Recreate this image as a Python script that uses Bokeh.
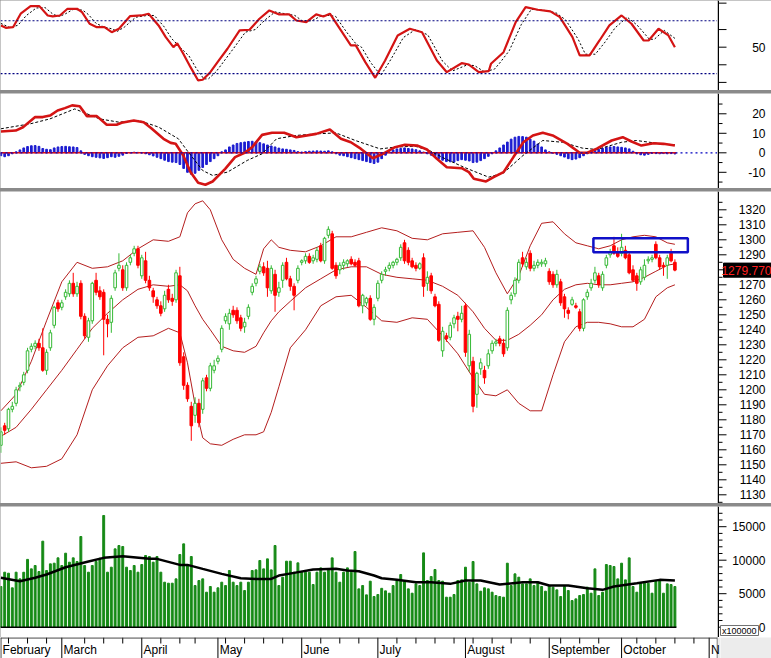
from bokeh.plotting import figure
from bokeh.layouts import column, row
from bokeh.models import Range1d, Span
from bokeh.embed import file_html
from bokeh.resources import INLINE
from bokeh.core.properties import value

# ---------------- data ----------------
opens = [1163,1176,1174,1187,1191,1202,1205,1213,1227,1229,
         1231,1228,1213,1228,1243,1258,1255,1262,1264,1271,
         1264,1271,1249,1235,1246,1273,1266,1265,1247,1245,
         1268,1281,1280,1268,1285,1291,1294,1276,1286,1273,
         1266,1260,1256,1254,1267,1261,1260,1276,1222,1203,
         1189,1183,1191,1187,1208,1201,1213,1219,1227,1246,
         1244,1253,1253,1248,1242,1249,1265,1271,1279,1282,
         1281,1266,1277,1265,1273,1285,1274,1269,1273,1285,
         1286,1289,1286,1287,1296,1286,1303,1304,1283,1280,
         1283,1284,1287,1285,1286,1256,1258,1261,1247,1261,
         1273,1279,1281,1283,1285,1288,1298,1293,1286,1283,
         1281,1288,1271,1276,1262,1257,1226,1236,1235,1244,
         1249,1247,1256,1216,1219,1197,1214,1213,1216,1226,
         1231,1234,1231,1228,1260,1264,1273,1288,1282,1291,
         1281,1283,1284,1284,1279,1277,1270,1272,1262,1253,
         1257,1256,1252,1241,1262,1268,1273,1276,1268,1283,
         1290,1296,1292,1291,1293,1290,1280,1276,1272,1275,
         1286,1287,1297,1288,1283,1283,1291,1285]
highs = [1175,1178,1188,1192,1202,1205,1212,1228,1231,1233,
         1234,1241,1227,1240,1256,1260,1260,1267,1273,1278,
         1272,1273,1251,1248,1272,1278,1269,1267,1250,1263,
         1280,1291,1283,1285,1290,1296,1296,1290,1292,1276,
         1268,1262,1259,1266,1270,1264,1280,1282,1225,1205,
         1192,1195,1194,1208,1210,1218,1220,1223,1243,1251,
         1254,1256,1255,1250,1248,1257,1271,1276,1284,1285,
         1286,1283,1280,1272,1285,1288,1276,1271,1283,1287,
         1291,1291,1290,1295,1298,1302,1309,1306,1285,1285,
         1287,1287,1289,1287,1288,1264,1262,1263,1257,1273,
         1279,1282,1285,1286,1288,1297,1300,1295,1288,1285,
         1285,1291,1279,1278,1264,1259,1242,1238,1245,1250,
         1252,1256,1258,1240,1222,1212,1221,1216,1227,1233,
         1234,1236,1234,1255,1265,1275,1287,1292,1288,1293,
         1286,1287,1287,1288,1281,1279,1280,1274,1264,1255,
         1262,1258,1254,1261,1267,1274,1282,1278,1279,1290,
         1294,1302,1295,1304,1296,1292,1283,1278,1282,1287,
         1289,1290,1299,1290,1285,1290,1294,1287]
lows = [1158,1170,1172,1185,1189,1199,1203,1211,1225,1227,
        1226,1212,1210,1226,1241,1252,1253,1260,1262,1262,
        1262,1247,1234,1232,1244,1263,1260,1223,1235,1238,
        1266,1279,1266,1266,1283,1289,1281,1274,1271,1266,
        1258,1254,1249,1252,1258,1256,1258,1216,1200,1192,
        1166,1178,1175,1184,1199,1199,1211,1217,1225,1244,
        1240,1248,1244,1239,1238,1247,1263,1269,1277,1276,
        1262,1264,1252,1262,1268,1273,1266,1253,1271,1283,
        1284,1284,1284,1285,1285,1284,1301,1280,1274,1277,
        1280,1282,1283,1282,1255,1251,1256,1246,1243,1259,
        1271,1276,1279,1281,1283,1286,1284,1283,1281,1279,
        1280,1262,1266,1264,1255,1232,1222,1232,1233,1241,
        1239,1245,1222,1212,1185,1188,1210,1204,1214,1224,
        1229,1229,1222,1226,1257,1262,1271,1282,1280,1279,
        1279,1281,1282,1282,1270,1268,1268,1256,1248,1247,
        1256,1254,1239,1239,1260,1266,1271,1268,1266,1281,
        1288,1290,1288,1289,1287,1277,1272,1266,1270,1273,
        1284,1285,1287,1280,1276,1274,1285,1279]
closes = [1172,1173,1187,1189,1200,1203,1210,1226,1229,1231,
          1228,1213,1225,1238,1255,1254,1258,1265,1271,1264,
          1269,1249,1236,1246,1271,1265,1262,1247,1244,1261,
          1278,1283,1268,1283,1288,1294,1283,1288,1273,1268,
          1262,1256,1251,1263,1260,1259,1278,1218,1203,1194,
          1176,1191,1178,1206,1201,1216,1216,1221,1241,1249,
          1251,1250,1246,1241,1245,1255,1269,1274,1282,1278,
          1268,1281,1263,1268,1283,1274,1269,1263,1281,1286,
          1289,1285,1288,1293,1286,1301,1307,1281,1276,1283,
          1285,1286,1284,1283,1256,1263,1261,1247,1255,1271,
          1277,1280,1283,1285,1287,1295,1286,1285,1282,1281,
          1284,1269,1275,1266,1256,1233,1239,1234,1243,1248,
          1247,1251,1225,1237,1189,1211,1218,1208,1224,1231,
          1232,1231,1224,1253,1263,1273,1285,1284,1285,1281,
          1283,1285,1285,1286,1272,1270,1277,1258,1254,1251,
          1260,1255,1241,1260,1265,1271,1278,1270,1277,1288,
          1292,1291,1289,1295,1288,1278,1273,1271,1280,1283,
          1287,1288,1288,1282,1282,1288,1286,1279.77]
volume = [6074,8209,8060,5876,8209,7214,8200,10122,8707,9204,
          8309,12838,8458,9453,9553,10349,9204,11045,9702,10349,
          9802,13534,9204,8209,9204,9802,10300,16672,8209,8955,
          11691,12189,12040,8955,8458,9204,8209,9354,10697,10548,
          9702,10548,8209,6717,6568,6568,7214,10846,12438,9204,
          10548,6220,6966,7214,5225,6074,5225,5876,6717,6220,
          8458,6717,6220,6717,5474,6717,8458,8557,9951,8707,
          10200,8557,12189,6220,7463,9851,9851,8209,9603,8209,
          8209,8209,6369,8209,8856,8209,8707,10349,8209,6717,
          8209,8856,8209,11293,5724,6220,4827,6866,4578,4877,
          5800,5424,5076,6220,6966,7861,6817,5724,5076,6469,
          6220,11094,6966,7562,8607,6966,6866,4479,4479,4877,
          6966,7065,8955,6717,9802,6469,5375,5876,5724,5225,
          4728,4578,4479,9553,6220,7960,7463,6469,6469,7214,
          6220,6717,6074,5375,6220,5975,5574,4578,6074,5474,
          3980,4229,4728,4877,5975,5076,8707,4728,5225,9354,
          9204,9055,7214,9553,7065,10349,6074,5225,6568,6568,
          6568,5076,6966,6966,5076,6469,6369,6074]
macd_hist = [-1.5,-2,-1.5,-0.5,0.5,1.5,2.5,3.2,3.6,3.7,
             3.3,2.2,1.8,1.6,2.5,3,3.2,3.3,3.1,3,
             2.7,1.0,-0.8,-1.5,-2,-2.3,-2.6,-2.9,-2.5,-2.0,
             -2.3,-1.8,-1.2,-0.3,0,0.3,0.2,0,-0.5,-1,
             -1.6,-2.3,-3,-3.8,-4.5,-4.8,-5,-6,-8,-10,
             -11,-10.5,-9,-7.5,-6,-4.5,-3,-1.5,0.5,1.5,
             3,4,4.8,5.2,5.5,5.8,5.9,5.6,5.2,4.6,
             4,3.5,3,2.4,2,1.8,1.5,1.2,0.6,0.4,
             0.6,0.8,0.9,1.0,0.9,0.8,1,0.5,-0.5,-1.2,
             -1.5,-2,-2.5,-3,-3.5,-4,-4.5,-5,-5.5,-4.8,
             -3,-1.2,0.5,1.5,2,2.2,2.5,2.2,2,1.6,
             1,0.4,-0.5,-1.2,-2,-3,-3.8,-4.5,-4.6,-4.8,
             -4,-3.5,-3.8,-4.2,-5,-4.8,-4,-3,-1.8,-0.5,
             1,2.5,4,5.5,7,8,8.4,8.3,8,7,
             6,4.5,3,1.5,0.5,-0.2,-0.8,-1.5,-2.2,-3,
             -3.5,-3.2,-2.5,-1.5,-0.5,0.5,1.2,1.8,2.3,2.8,
             3,3.2,3,2.8,2.5,2,0.8,-0.5,-1,-1.2,
             -0.8,-0.3,-0.4,-0.5,-0.4,-0.5,-0.4,-0.6]

# Bollinger bands (read at selected bars)
bb_x = [0,4,8,12,16,20,24,28,32,36,40,44,47,49,51,53,55,58,61,64,67,69,71,73,76,
        80,84,88,92,96,100,104,108,112,116,120,124,127,130,133,136,139,142,145,148,
        151,154,157,160,163,166,169,172,175,177]
bb_upper = [1186,1197,1219,1246,1272,1285,1281,1282,1286,1294,1300,1299,1302,1318,1324,
            1326,1320,1300,1287,1281,1277,1294,1300,1295,1293,1292,1296,1302,1302,1305,
            1308,1306,1301,1300,1304,1305,1306,1295,1278,1264,1276,1296,1311,1312,1304,
            1298,1296,1294,1296,1300,1302,1303,1302,1298,1297]
bb_middle = [1169,1175,1187,1200,1213,1227,1241,1251,1260,1267,1270,1269,1270,1266,1256,
             1247,1240,1229,1226,1225,1229,1238,1246,1252,1259,1268,1274,1280,1282,1282,
             1277,1275,1274,1273,1269,1263,1252,1241,1233,1233,1237,1243,1250,1260,1267,
             1270,1271,1270,1270,1271,1272,1275,1279,1283,1284]
bb_lower = [1151,1152,1148,1149,1154,1170,1200,1216,1228,1235,1236,1241,1238,1218,1190,
            1168,1164,1163,1167,1170,1170,1172,1185,1202,1228,1240,1256,1262,1263,1255,
            1246,1245,1248,1247,1236,1224,1208,1197,1196,1200,1191,1186,1186,1210,1232,
            1242,1245,1245,1244,1242,1242,1247,1262,1268,1270]

# Stochastic %K and %D
stk_x = [0,1.3,3.2,5.2,7.8,10.1,12.3,13.6,15.5,17.5,20,21.3,23.3,25.2,27.2,29.1,31,33.9,
         36.9,38.8,41.4,43.3,45.3,46.3,47.9,49.8,51.8,53,55,56.9,59.5,62.7,65.3,67.9,70.5,
         73.1,75.7,77.6,80.2,82.8,84.7,86.4,89.3,91.9,93.2,95.7,98.3,100.9,104.2,107.4,
         110.6,114.5,117.1,121,122.9,125.5,128.1,128.7,132,135.2,137.8,141,144.3,146.8,
         150.1,152,154.6,157.2,159.8,163,165.6,168.8,170.1,172.7,175.3,177]
stk_k = [74.7,72,72.7,88,96.6,96.6,86,84.9,86,93.6,93.6,89.8,76.6,72.7,72.7,67,70.9,85.2,
         86,88,74.7,61.4,50,54.5,42.5,27.3,12.2,13,21.6,33,48.2,69,69.8,82.3,91.7,87.2,
         87.2,80.3,78.4,87.2,84.9,88,69,52,52,33,15.2,34.9,63.3,70.9,67,34.9,21.6,31.8,
         30.3,21.6,22.7,31.1,44.3,78.4,95.5,92.5,90.6,84.1,61.4,40.6,40.6,57.6,74.7,86,
         76.6,57.6,57.6,70.9,63.3,50]
std_x = [0,2.5,4.5,6.7,9.3,11.6,13.8,15.5,17,19,21.5,23,25,27,29,30.6,32.5,35.4,38.4,40.3,
         42.9,44.8,46.8,49.4,51.3,53.3,54.5,56.5,58.4,61,64.2,66.8,69.4,72,74.6,77.2,79.1,
         81.7,84.3,86.2,87.9,90.8,93.4,94.7,97.2,99.8,102.4,105.7,108.9,112.1,116,118.6,
         122.5,124.4,127,129.6,131,133.5,136.7,139.3,142.5,145.8,148.3,151.6,153.5,156.1,
         158.7,161.3,164.5,167.1,170.3,171.6,174.2,177]
std_d = [77,72,75,86,94.5,95,87,85,88,93,92,87,77,73,71,68,73,84,86,86,73,60,51,40,26,14,
         14,22,33,48,67,70,81,90,88,86,80,80,86,86,85,67,53,50,32,18,36,61,70,64,34,23,30,
         29,22,25,32,46,76,93,92,89,81,59,42,42,56,72,84,75,59,59,69,60]

# MACD line and signal
macd_x = [0,3.9,5.8,9,11,12.9,14.9,16.8,18.7,20.7,22.6,25.2,27.8,30.4,31.7,34.9,37.5,39.5,
          42.7,44.6,45.9,47.9,49.8,51.8,53.7,55.6,58.9,61.5,64,66,68.6,71.2,74.4,77.6,82.8,
          86.4,89.3,91.9,94.5,97.7,100.3,103.5,106.1,109.3,111.9,114.5,117.1,121,122.9,
          124.2,127.4,129.4,132,134.6,137.2,139.7,142.3,144.9,148.8,152,154,156.5,160.4,
          163.3,165.6,168.2,171.4,174,177]
macd_line = [10.9,11.4,13.1,18.3,18.3,19.1,21.7,22.9,24.3,23.9,18.8,18.8,14.4,14.4,15.4,
             16.6,15.7,12.6,7.2,5.1,4.6,-1.4,-9.9,-15.4,-16.4,-14.7,-8.2,-2.2,0,2.9,9.2,
             10.3,10.3,8,9.7,11.9,7.2,5.4,2.1,-2.8,-0.5,2.9,4.1,3.7,1.7,-3.1,-7.4,-7.9,
             -9.9,-13.3,-14.7,-12.5,-9.9,-2.2,5.4,8.9,10.3,8.9,4.6,0,0,2.1,6.3,8,5.8,3.7,
             4.9,4.6,3.7]
sig_x = [0,7.8,12.9,19.4,25.9,31,36.2,41.4,46.6,49.2,53,55.6,59.5,64.7,68.6,72.4,77.6,
         82.8,88,93.1,99.6,103.5,108.7,112.5,116.4,121.6,128.1,132,137.1,142.3,147.5,
         152.7,156.5,163,166.9,173.4,177]
sig_line = [12.3,14.9,17.4,22.5,17.4,15.7,16.6,13.2,7.2,0.4,-9.1,-11.6,-9.9,-3.9,-0.5,
            7.2,8.9,9.7,10.2,6.3,2,2.9,3.4,1.2,-2.8,-7.4,-12.5,-10.3,-1.4,6.3,5.4,2.4,
            1.7,5.4,6.3,4.6,4.1]

# Volume moving average
vma_x = [0,5,9,12,17,23,27,32,39,41,47,49,53,58,63,67,71,73,77,82,88,91,94,98,100,104,
         109,113,118,122,126,131,137,141,144,149,154,158,161,167,173,177]
vma = [7370,6870,7370,7860,8950,9800,10350,10600,10200,10200,9300,9300,8700,7960,7310,
       7210,7210,7710,8110,8610,8710,8460,8360,7710,7300,7065,6717,6717,6469,6966,6966,
       6369,6717,6717,6220,6220,5822,5574,6074,6568,7065,6966]

# annotation box on the price panel
box_left = [155.6]
box_right = [180.4]
box_top = [1301.1]
box_bottom = [1291.7]

# axis labels
month_labels = ["February", "March", "April", "May", "June", "July",
                "August", "September", "October", "N"]
month_start = [0, 16, 37, 57, 79, 99, 122, 144, 163, 186]
week_start = [2, 7, 12, 22, 27, 32, 42, 47, 51, 59, 64, 69, 74, 84, 89, 94, 104, 109,
              114, 119, 124, 129, 134, 139, 147, 152, 157, 167, 172, 177, 182]
stoch_ticks = [10, 30, 50, 70, 100]
stoch_label_ticks = [50]
macd_ticks = [-10, 0, 10, 20]
macd_minor = [-15, -5, 5, 15, 25]
price_ticks = [1130, 1140, 1150, 1160, 1170, 1180, 1190, 1200, 1210, 1220,
               1230, 1240, 1250, 1260, 1270, 1280, 1290, 1300, 1310, 1320]
price_minor = [1125, 1135, 1145, 1155, 1165, 1175, 1185, 1195, 1205, 1215, 1225,
               1235, 1245, 1255, 1265, 1275, 1285, 1295, 1305, 1315, 1325]
vol_ticks = [0, 5000, 10000, 15000]
vol_minor = [1000, 2000, 3000, 4000, 6000, 7000, 8000, 9000, 11000, 12000, 13000,
             14000, 16000, 17000]
vol_unit = "x100000"

# ---------------- layout constants ----------------
PX = 3.808            # pixels per bar
X0 = -0.1
FRAME_W = 717
AX_W = 54
X1 = X0 + FRAME_W / PX
XR = Range1d(X0, X1)
DS_W = 720            # date strip is a little wider so the clipped "N" stays whole
XR_DS = Range1d(X0, X0 + DS_W / PX)
FONT = "Liberation Sans"
n = len(closes)
xs = list(range(n))


def base_fig(w, h, xr, yr, bg="white"):
    p = figure(width=w, height=h, x_range=xr, y_range=yr,
               output_backend="svg", toolbar_location=None,
               x_axis_location=None, y_axis_location=None,
               min_border_left=0, min_border_right=0, min_border_top=0,
               min_border_bottom=0)
    p.outline_line_color = None
    p.grid.visible = False
    p.background_fill_color = bg
    p.border_fill_color = bg
    return p


def axis_panel(h, yr, major, minor, labelled, minor_len=4):
    a = base_fig(AX_W, h, Range1d(0, AX_W), yr)
    a.add_layout(Span(location=1, dimension="height", line_color="black", line_width=1))
    a.segment(x0=[1] * len(major), y0=major, x1=[9] * len(major), y1=major,
              line_color="black", line_width=1)
    if minor:
        a.segment(x0=[1] * len(minor), y0=minor, x1=[1 + minor_len] * len(minor),
                  y1=minor, line_color="black", line_width=1)
    a.text(x=[48] * len(labelled), y=labelled, text=[str(t) for t in labelled],
           text_align="right", text_baseline="middle", text_font=value(FONT),
           text_font_size=value("12px"), text_color="black")
    return a


# ---------------- stochastic ----------------
yr_st = Range1d(0.8, 103)
st = base_fig(FRAME_W, 90, XR, yr_st)
st.add_layout(Span(location=80, dimension="width", line_color="#000080",
                   line_dash="2 2", line_width=1.2))
st.add_layout(Span(location=20, dimension="width", line_color="#000080",
                   line_dash="2 2", line_width=1.2))
st.line(std_x, std_d, line_color="black", line_width=1, line_dash="2 2")
st.line(stk_x, stk_k, line_color="#d41414", line_width=2.2)
st_ax = axis_panel(90, yr_st, stoch_ticks, [], stoch_label_ticks)

# ---------------- MACD ----------------
yr_mc = Range1d(-18.3, 30.4)
mc = base_fig(FRAME_W, 95, XR, yr_mc)
mc.add_layout(Span(location=0, dimension="width", line_color="#0000c0",
                   line_dash="2 3", line_width=1.2))
mc.vbar(x=xs, width=0.45, top=macd_hist, bottom=0, fill_color="#1c1cd0",
        line_color="#1c1cd0")
mc.segment(x0=[X0], y0=[0], x1=[n - 1 + 0.4], y1=[0], line_color="#e01010", line_width=1.5)
mc.line(sig_x, sig_line, line_color="black", line_width=1, line_dash="3 2")
mc.line(macd_x, macd_line, line_color="#d41414", line_width=2.6)
mc_ax = axis_panel(95, yr_mc, macd_ticks, macd_minor, macd_ticks)

# ---------------- price ----------------
yr_pr = Range1d(1124.2, 1332.2)
pr = base_fig(FRAME_W, 312, XR, yr_pr)
up = [c >= o for o, c in zip(opens, closes)]
col = ["#35b935" if u else "#ff0000" for u in up]
fill = ["white" if u else "#ff0000" for u in up]
tops = [max(o, c) for o, c in zip(opens, closes)]
bots = [min(o, c) for o, c in zip(opens, closes)]
bb_col = "#b41e1e"
pr.line(bb_x, bb_upper, line_color=bb_col, line_width=1)
pr.line(bb_x, bb_middle, line_color=bb_col, line_width=1)
pr.line(bb_x, bb_lower, line_color=bb_col, line_width=1)
pr.segment(x0=xs, y0=lows, x1=xs, y1=highs, line_color=col, line_width=1)
pr.vbar(x=xs, width=0.68, top=tops, bottom=bots, fill_color=fill, line_color=col,
        line_width=1)
pr.quad(left=box_left, right=box_right, top=box_top, bottom=box_bottom,
        fill_color=None, line_color="#1010c8", line_width=2.5)
pr_ax = axis_panel(312, yr_pr, price_ticks, price_minor, price_ticks)
# last-price tag
pr_ax.quad(left=[6], right=[AX_W], top=[closes[-1] + 4.7], bottom=[closes[-1] - 4.7],
           fill_color="black", line_color="black")
pr_ax.text(x=[AX_W], y=[closes[-1]], text=["%.3f" % closes[-1]], text_align="right",
           text_baseline="middle", text_font=value(FONT), text_font_size=value("12px"),
           text_color="#ff2020")

# ---------------- volume ----------------
yr_vo = Range1d(-1537, 18014)
vo = base_fig(FRAME_W, 131, XR, yr_vo)
vo.vbar(x=xs, width=0.5, top=volume, bottom=0, fill_color="#168a16",
        line_color="#168a16")
vo.segment(x0=[X0], y0=[0], x1=[n - 1 + 0.4], y1=[0], line_color="black", line_width=1.5)
vo.line(vma_x, vma, line_color="black", line_width=2.5)
vo_ax = axis_panel(131, yr_vo, vol_ticks, vol_minor, vol_ticks)
vo_ax.quad(left=[3], right=[41], top=[250], bottom=[-1240], fill_color="white",
           line_color="#707070", line_width=1)
vo_ax.text(x=[4.5], y=[-495], text=[vol_unit], text_align="left", text_baseline="middle",
           text_font=value(FONT), text_font_size=value("9px"), text_color="black")

# ---------------- date strip ----------------
yr_ds = Range1d(0, 21)
ds = base_fig(DS_W, 21, XR_DS, yr_ds)
ds.segment(x0=month_start, y0=[0] * len(month_start), x1=month_start,
           y1=[21] * len(month_start), line_color="black", line_width=1)
ds.segment(x0=week_start, y0=[15] * len(week_start), x1=week_start,
           y1=[21] * len(week_start), line_color="black", line_width=1)
ds.segment(x0=[X0], y0=[20.6], x1=[X1], y1=[20.6], line_color="#303030", line_width=1.2)
ds.segment(x0=[X1 - 0.05], y0=[0], x1=[X1 - 0.05], y1=[21], line_color="#303030",
           line_width=1)
ds.quad(left=[X1], right=[X0 + DS_W / PX], top=[21], bottom=[0], fill_color="#ececec",
        line_color=None)
ds.text(x=[m + 0.45 for m in month_start], y=[8.5] * len(month_start), text=month_labels,
        text_font=value(FONT), text_font_size=value("12px"), text_baseline="middle",
        text_align="left", text_color="black")
ds_ax = base_fig(771 - DS_W, 21, Range1d(0, 771 - DS_W), yr_ds, bg="#ececec")

panels = column(row(st, st_ax), row(mc, mc_ax), row(pr, pr_ax), row(vo, vo_ax),
                spacing=3, styles={"background-color": "#8a8a8a"})
layout = column(panels, row(ds, ds_ax), spacing=0)

open("out.html", "w").write(file_html(layout, INLINE))
